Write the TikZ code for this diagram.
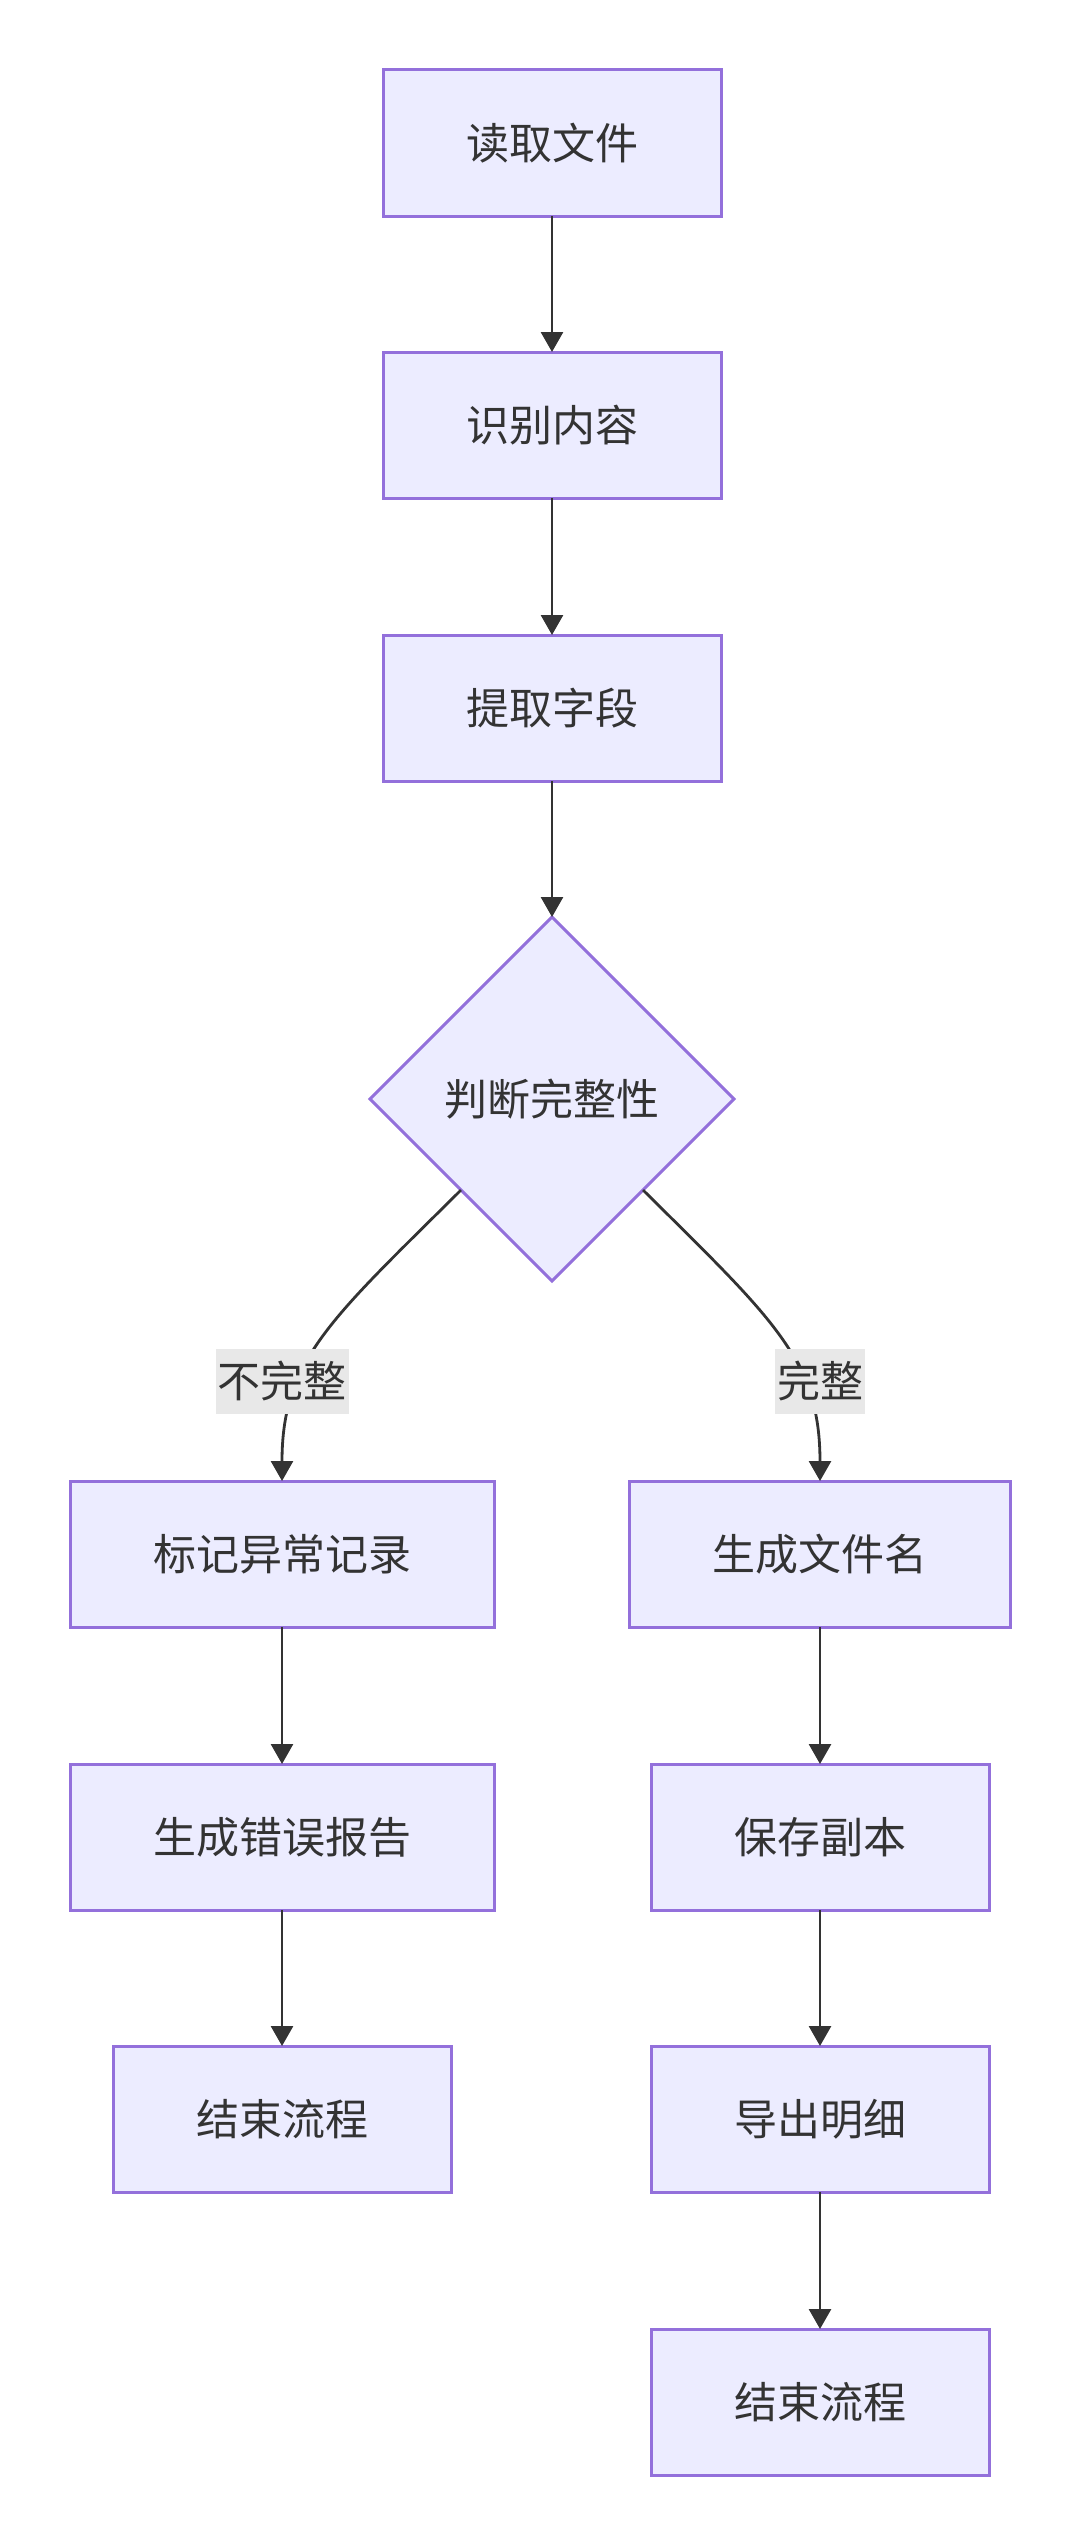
\documentclass[tikz,border=0pt]{standalone}
\usepackage{fontspec}
\setmainfont{Noto Sans CJK SC}
\usetikzlibrary{shapes.geometric,arrows.meta}
\definecolor{boxfill}{HTML}{ECECFF}
\definecolor{boxline}{HTML}{9370DB}
\definecolor{ink}{HTML}{333333}
\definecolor{tagfill}{HTML}{E8E8E8}
\begin{document}
\begin{tikzpicture}[x=1pt,y=-1pt,
  stepbox/.style={draw=boxline,fill=boxfill,line width=3pt,minimum height=146pt,inner xsep=83pt,outer sep=0pt,text=ink,font=\fontsize{43}{50}\selectfont},
  decide/.style={diamond,aspect=1,draw=boxline,fill=boxfill,line width=3pt,minimum width=364pt,minimum height=364pt,inner sep=0pt,outer sep=0pt,text=ink,font=\fontsize{43}{50}\selectfont},
  tag/.style={fill=tagfill,text=ink,inner xsep=2pt,inner ysep=0pt,minimum height=65pt,font=\fontsize{43}{50}\selectfont},
  flow/.style={draw=ink,line width=2.8pt,-{Triangle[length=20pt,width=22pt]}}]
\useasboundingbox (0,0) rectangle (1080,2545);

\node[stepbox] (read) at (552,143) {读取文件};
\node[stepbox] (ident) at (552,425) {识别内容};
\node[stepbox] (fields) at (552,708) {提取字段};
\node[decide] (check) at (552,1099) {判断完整性};

\node[stepbox] (mark) at (282,1554) {标记异常记录};
\node[stepbox] (report) at (282,1837) {生成错误报告};
\node[stepbox] (endl) at (282,2119) {结束流程};

\node[stepbox] (name) at (820,1554) {生成文件名};
\node[stepbox] (copy) at (820,1837) {保存副本};
\node[stepbox] (export) at (820,2119) {导出明细};
\node[stepbox] (endr) at (820,2402) {结束流程};

\draw[flow] (read) -- (ident);
\draw[flow] (ident) -- (fields);
\draw[flow] (fields) -- (check);

\draw[flow] (check.south west) .. controls (330,1320) and (282,1360) .. (mark.north);
\draw[flow] (check.south east) .. controls (774,1320) and (820,1360) .. (name.north);
\node[tag] (bad) at (282,1381) {不完整};
\node[tag] (good) at (820,1381) {完整};

\draw[flow] (mark) -- (report);
\draw[flow] (report) -- (endl);

\draw[flow] (name) -- (copy);
\draw[flow] (copy) -- (export);
\draw[flow] (export) -- (endr);

\end{tikzpicture}
\end{document}
